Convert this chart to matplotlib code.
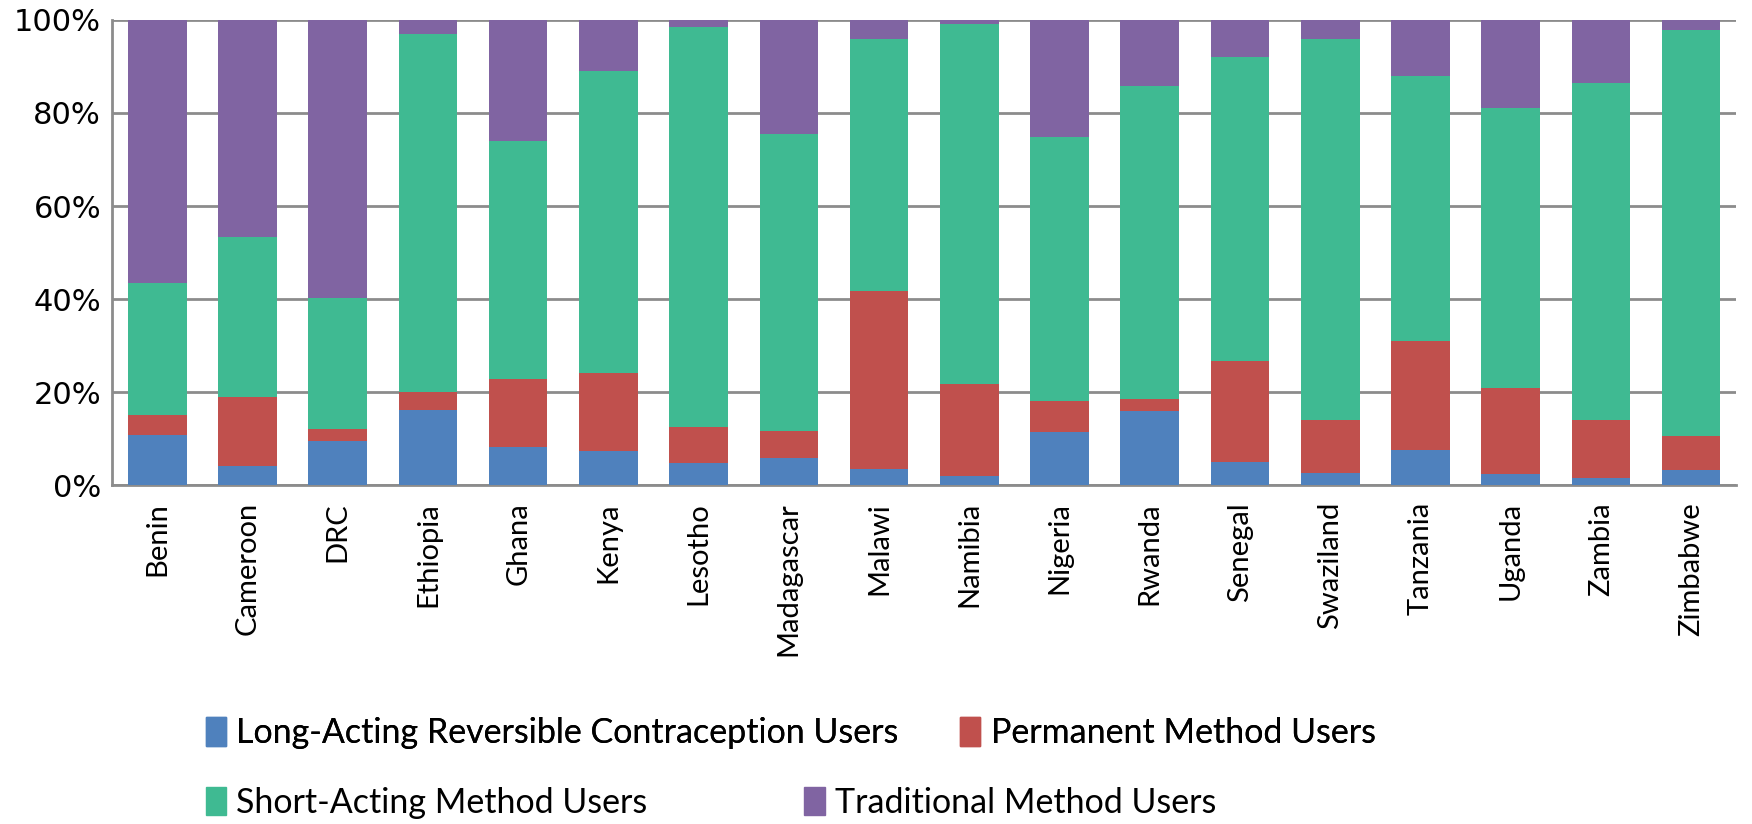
import matplotlib.pyplot as plt
from matplotlib.patches import Patch

countries = ['Benin', 'Cameroon', 'DRC', 'Ethiopia', 'Ghana', 'Kenya', 'Lesotho',
             'Madagascar', 'Malawi', 'Namibia', 'Nigeria', 'Rwanda', 'Senegal',
             'Swaziland', 'Tanzania', 'Uganda', 'Zambia', 'Zimbabwe']

# percentages per method
larc = [10.8, 4.2, 9.6, 16.1, 8.2, 7.4, 4.9, 5.9, 3.5, 2.0, 11.5, 15.9, 5.1, 2.7, 7.5, 2.5, 1.6, 3.4]
permanent = [4.4, 14.7, 2.4, 4.0, 14.7, 16.8, 7.7, 5.7, 38.3, 19.8, 6.7, 2.7, 21.6, 11.4, 23.5, 18.5, 12.5, 7.2]
short = [28.3, 34.4, 28.3, 76.8, 51.1, 64.8, 85.8, 63.9, 54.0, 77.2, 56.6, 67.1, 65.2, 81.7, 56.9, 60.0, 72.4, 87.1]
traditional = [56.5, 46.7, 59.7, 3.1, 26.0, 11.0, 1.6, 24.5, 4.2, 1.0, 25.2, 14.3, 8.1, 4.2, 12.1, 19.0, 13.5, 2.3]

labels = ['Long-Acting Reversible Contraception Users', 'Permanent Method Users',
          'Short-Acting Method Users', 'Traditional Method Users']
colors = ['#4F81BD', '#C0504D', '#3FBA92', '#8064A2']

fig = plt.figure(figsize=(17.52, 8.24), dpi=100)
ax = fig.add_axes([0.064, 0.411, 0.927, 0.565])

x = range(len(countries))
bottom = [0] * len(countries)
for vals, lab, col in zip([larc, permanent, short, traditional], labels, colors):
    ax.bar(x, vals, bottom=bottom, width=0.65, color=col, label=lab, zorder=3)
    bottom = [b + v for b, v in zip(bottom, vals)]

ax.set_xlim(-0.5, len(countries) - 0.5)
ax.set_ylim(0, 100)
ax.set_yticks(range(0, 101, 20))
ax.set_yticklabels([f'{v}%' for v in range(0, 101, 20)], family='DejaVu Sans', fontsize=22)
ax.set_xticks(list(x))
ax.set_xticklabels(countries, rotation=90, family='Lato', fontsize=21)
ax.tick_params(axis='y', length=0, pad=8)
ax.tick_params(axis='x', length=0, pad=12)
ax.yaxis.grid(True, color='#8c8c8c', linewidth=2, zorder=0)
for s in ['top', 'right']:
    ax.spines[s].set_visible(False)
for s in ['left', 'bottom']:
    ax.spines[s].set_color('#8c8c8c')
    ax.spines[s].set_linewidth(2)

h = [Patch(color=c) for c in colors]
font = {'family': 'Lato', 'size': 24.5}
leg1 = fig.legend([h[0], h[1]], [labels[0], labels[1]], ncol=2, frameon=False,
                  loc='center left', bbox_to_anchor=(0.1, 0.11),
                  prop=font, handlelength=0.6, handleheight=0.9,
                  handletextpad=0.3, columnspacing=1.8)
leg2 = fig.legend([h[2], h[3]], [labels[2], labels[3]], ncol=2, frameon=False,
                  loc='center left', bbox_to_anchor=(0.1, 0.026),
                  prop=font, handlelength=0.6, handleheight=0.9,
                  handletextpad=0.3, columnspacing=4.6)
fig.add_artist(leg1)

fig.savefig('out.png', dpi=100)
